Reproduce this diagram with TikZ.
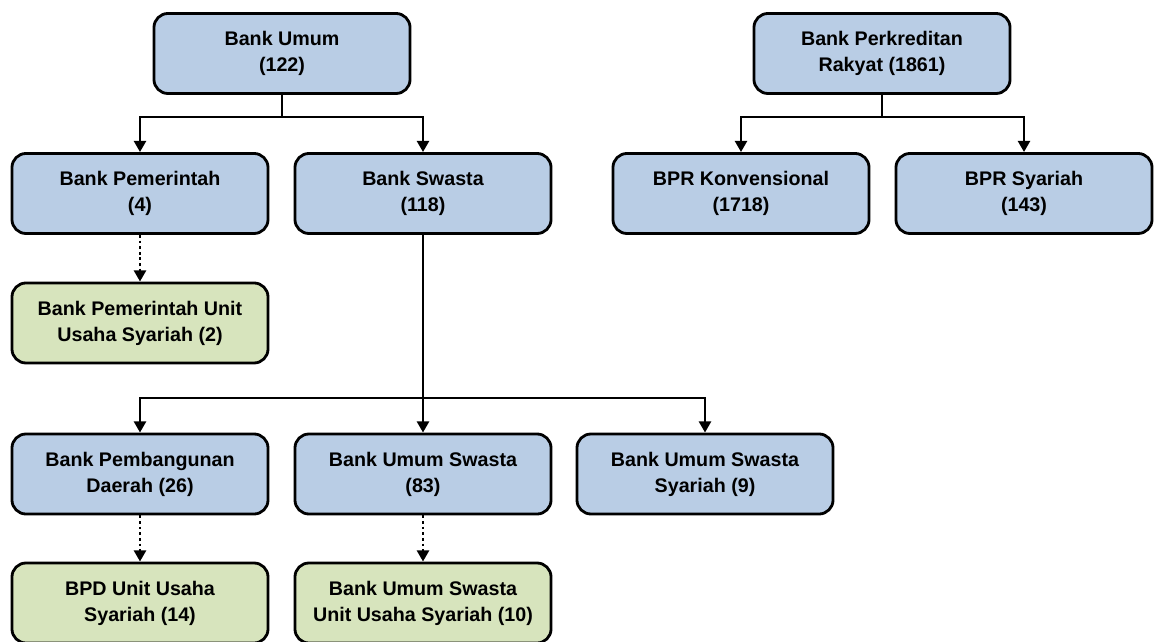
\documentclass[tikz,border=0pt]{standalone}
\usepackage{fontspec}
\setmainfont{Liberation Sans}
\usetikzlibrary{arrows.meta}
\definecolor{boxblue}{HTML}{B9CDE5}
\definecolor{boxgreen}{HTML}{D7E4BD}

\begin{document}
\begin{tikzpicture} [x=0.025cm, y=-0.025cm,
    box/.style = {draw=black, line width=2pt, rounded corners=0.35cm, fill=boxblue,
                  minimum width=6.4cm, minimum height=2cm, align=center,
                  font=\fontsize{14}{18.5}\selectfont\bfseries},
    uus/.style = {box, fill=boxgreen},
    link/.style = {line width=2pt, -{Triangle[length=8pt,width=8.5pt]}}]

            \useasboundingbox (0,0) rectangle (1157,642);

            \node[box] (BU)  at (282,  53.5) {Bank Umum\\(122)};
            \node[box] (BPR) at (882,  53.5) {Bank Perkreditan\\Rakyat (1861)};
            \node[box] (BP)  at (140, 193.5) {Bank Pemerintah\\(4)};
            \node[box] (BS)  at (423, 193.5) {Bank Swasta\\(118)};
            \node[box] (BK)  at (741, 193.5) {BPR Konvensional\\(1718)};
            \node[box] (BSY) at (1024,193.5) {BPR Syariah\\(143)};
            \node[uus] (BPU) at (140, 323)   {Bank Pemerintah Unit\\Usaha Syariah (2)};
            \node[box] (BPD) at (140, 474)   {Bank Pembangunan\\Daerah (26)};
            \node[box] (BUS) at (423, 474)   {Bank Umum Swasta\\(83)};
            \node[box] (BSS) at (705, 474)   {Bank Umum Swasta\\Syariah (9)};
            \node[uus] (BDU) at (140, 603)   {BPD Unit Usaha\\Syariah (14)};
            \node[uus] (BSU) at (423, 603)   {Bank Umum Swasta\\Unit Usaha Syariah (10)};

            \coordinate (J1) at (282, 117);
            \coordinate (J2) at (882, 117);
            \coordinate (J3) at (423, 398);

            \draw[line width=2pt] (BU) -- (J1);
            \draw[link] (J1) -| (BP);
            \draw[link] (J1) -| (BS);
            \draw[line width=2pt] (BPR) -- (J2);
            \draw[link] (J2) -| (BK);
            \draw[link] (J2) -| (BSY);
            \draw[link] (BS) -- (BUS);
            \draw[link] (J3) -| (BPD);
            \draw[link] (J3) -| (BSS);
            \draw[link,dash pattern=on 2pt off 2pt] (BP) -- (BPU);
            \draw[link,dash pattern=on 2pt off 2pt] (BPD) -- (BDU);
            \draw[link,dash pattern=on 2pt off 2pt] (BUS) -- (BSU);
        \end{tikzpicture}
\end{document}
